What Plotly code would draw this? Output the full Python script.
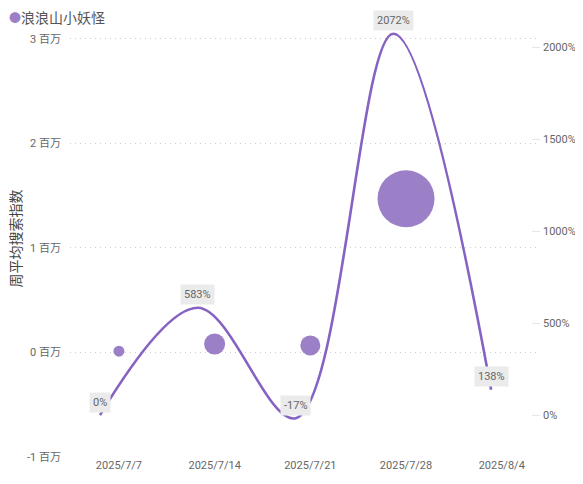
import pandas as pd
import plotly.graph_objects as go

# weekly data
weeks = ["2025-07-07", "2025-07-14", "2025-07-21", "2025-07-28", "2025-08-04"]
week_labels = ["2025/7/7", "2025/7/14", "2025/7/21", "2025/7/28", "2025/8/4"]
avg_index = [0.0119, 0.0815, 0.0677, 1.47]          # 百万, first four weeks
growth_pct = [0, 583, -17, 2072, 138]
growth_labels = ["0%", "583%", "-17%", "2072%", "138%"]
left_ticks = [-1, 0, 1, 2, 3]
right_ticks = [0, 500, 1000, 1500, 2000]
series_name = "浪浪山小妖怪"

BUBBLE = "#9b80c8"
LINE = "#8662c2"
FONT = "Segoe UI, Roboto, Noto Sans CJK SC, sans-serif"

t0 = pd.Timestamp(weeks[0])
day = pd.Timedelta(days=1)

# bubble size from value (min 11px, max 57px)
vmin, vmax = min(avg_index), max(avg_index)
sizes = [11 + 46 * ((v - vmin) / (vmax - vmin)) ** 0.5 for v in avg_index]

fig = go.Figure()
fig.add_trace(go.Scatter(
    x=weeks[:len(avg_index)], y=avg_index, mode="markers",
    marker=dict(size=sizes, color=BUBBLE, opacity=1, line=dict(width=0)),
    name=series_name, showlegend=False,
))
fig.add_trace(go.Scatter(
    x=weeks, y=growth_pct, mode="lines", xaxis="x2", yaxis="y2",
    line=dict(color=LINE, width=2.6, shape="spline", smoothing=1.0),
    showlegend=False,
))

for w, g, lab in zip(weeks, growth_pct, growth_labels):
    fig.add_annotation(
        x=w, y=g, xref="x2", yref="y2", text=lab, showarrow=False,
        yshift=13, bgcolor="#ebebeb", borderpad=3,
        font=dict(size=11, color="#666666", family=FONT),
    )

# legend-like header (top-left)
fig.add_annotation(
    x=-0.134, y=1.005, xref="paper", yref="paper", xanchor="left", yanchor="middle",
    text=f"<span style='color:{BUBBLE};font-size:12px'>●</span>{series_name}", showarrow=False,
    font=dict(size=14, color="#555555", family=FONT),
)

fig.update_layout(
    width=575, height=476,
    margin=dict(l=62, r=43, t=12, b=27),
    paper_bgcolor="white", plot_bgcolor="white",
    font=dict(family=FONT, size=11, color="#666666"),
    xaxis=dict(
        type="date", automargin=False,
        range=[t0 - 3.58 * day, t0 + 30.8 * day],
        tickvals=weeks, ticktext=week_labels,
        showgrid=False, zeroline=False, showline=False,
        tickfont=dict(size=11, color="#666666"),
    ),
    xaxis2=dict(
        type="date", overlaying="x", visible=False,
        range=[t0 - 2.15 * day, t0 + 31.5 * day],
    ),
    yaxis=dict(
        range=[-1, 3.18], tickvals=left_ticks, automargin=False,
        ticktext=[f"{v} 百万" for v in left_ticks],
        showgrid=True, gridcolor="#cccccc", griddash="1px,4px", gridwidth=1,
        zeroline=False, showline=False, ticklabelstandoff=8,
        tickfont=dict(size=11, color="#666666"),
        title=dict(text="周平均搜索指数", font=dict(size=14, color="#444444"), standoff=8),
    ),
    yaxis2=dict(
        range=[-228, 2147], overlaying="y", side="right", automargin=False,
        tickvals=right_ticks, ticktext=[f"{v}%" for v in right_ticks],
        showgrid=False, zeroline=False, showline=False,
        ticks="inside", ticklen=8, tickcolor="#e6e6e6",
        ticklabelstandoff=2,
        tickfont=dict(size=11, color="#666666"),
    ),
)

fig.write_html("out.html")
